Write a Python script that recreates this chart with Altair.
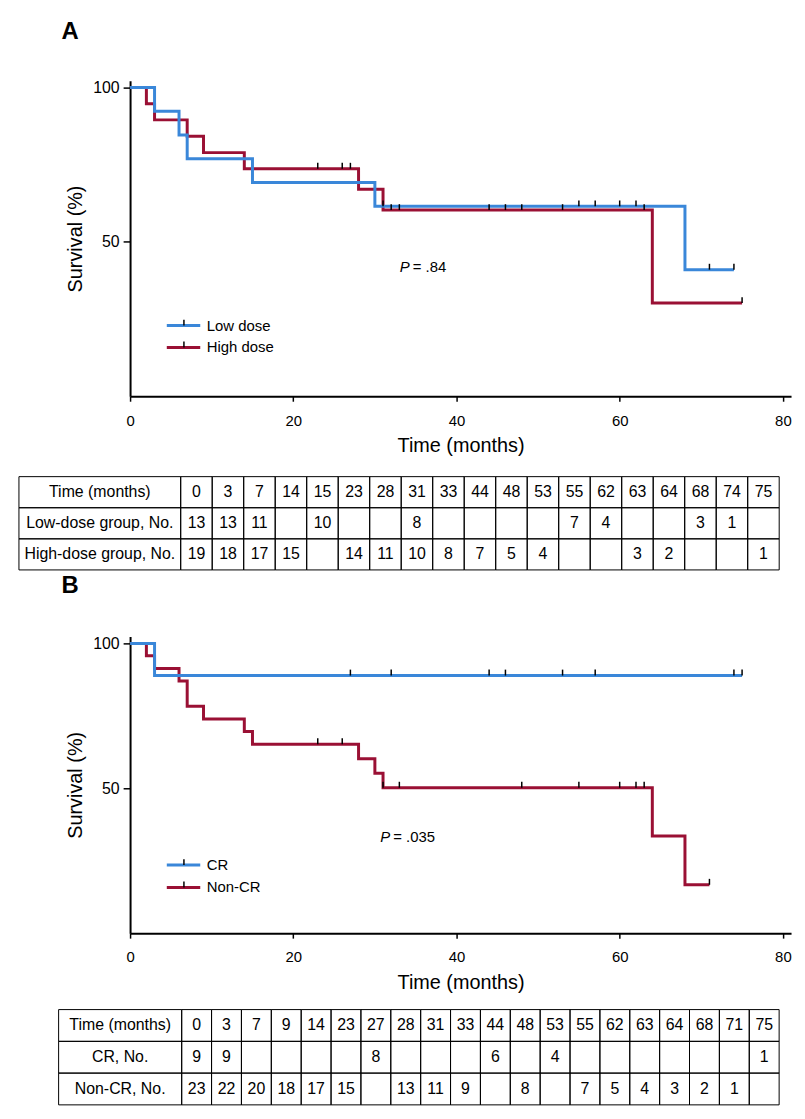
import altair as alt
import pandas as pd

FONT = "Liberation Sans, Arial, Helvetica, sans-serif"
BLUE = "#3A87D9"
RED = "#9A1034"

# ---------------- Panel A: Kaplan-Meier steps (months, survival %) ----------------
a_low_time = [0, 3, 6, 7, 15, 30, 68, 74]
a_low_surv = [100, 92.3, 84.6, 76.9, 69.2, 61.5, 41.0, 41.0]
a_high_time = [0, 2, 3, 7, 9, 14, 28, 31, 64, 75]
a_high_surv = [100, 94.7, 89.5, 84.2, 78.9, 73.7, 67.0, 60.3, 30.2, 30.2]
a_low_cens_time = [31, 55, 57, 60, 62, 71, 74]
a_low_cens_surv = [61.5, 61.5, 61.5, 61.5, 61.5, 41.0, 41.0]
a_high_cens_time = [23, 26, 27, 32, 33, 44, 46, 48, 53, 63, 75]
a_high_cens_surv = [73.7, 73.7, 73.7, 60.3, 60.3, 60.3, 60.3, 60.3, 60.3, 60.3, 30.2]
a_legend = ["Low dose", "High dose"]
a_pvalue = "= .84"

# ---------------- Panel B ----------------
b_cr_time = [0, 3, 75]
b_cr_surv = [100, 88.9, 88.9]
b_ncr_time = [0, 2, 3, 6, 7, 9, 14, 15, 28, 30, 31, 64, 68, 71]
b_ncr_surv = [100, 95.7, 91.3, 87.0, 78.3, 73.9, 69.6, 65.2, 60.2, 55.2, 50.2, 33.5, 16.7, 16.7]
b_cr_cens_time = [27, 32, 44, 46, 53, 57, 74, 75]
b_cr_cens_surv = [88.9, 88.9, 88.9, 88.9, 88.9, 88.9, 88.9, 88.9]
b_ncr_cens_time = [23, 26, 31, 33, 48, 55, 60, 62, 63, 71]
b_ncr_cens_surv = [65.2, 65.2, 50.2, 50.2, 50.2, 50.2, 50.2, 50.2, 50.2, 16.7]
b_legend = ["CR", "Non-CR"]
b_pvalue = "= .035"

# ---------------- Tables (numbers at risk) ----------------
ta_times = ["0", "3", "7", "14", "15", "23", "28", "31", "33", "44", "48", "53", "55", "62", "63", "64", "68", "74", "75"]
ta_labels = ["Time (months)", "Low-dose group, No.", "High-dose group, No."]
ta_low = ["13", "13", "11", "", "10", "", "", "8", "", "", "", "", "7", "4", "", "", "3", "1", ""]
ta_high = ["19", "18", "17", "15", "", "14", "11", "10", "8", "7", "5", "4", "", "", "3", "2", "", "", "1"]

tb_times = ["0", "3", "7", "9", "14", "23", "27", "28", "31", "33", "44", "48", "53", "55", "62", "63", "64", "68", "71", "75"]
tb_labels = ["Time (months)", "CR, No.", "Non-CR, No."]
tb_cr = ["9", "9", "", "", "", "", "8", "", "", "", "6", "", "4", "", "", "", "", "", "", "1"]
tb_ncr = ["23", "22", "20", "18", "17", "15", "", "13", "11", "9", "", "8", "", "7", "5", "4", "3", "2", "1", ""]

W = 666


def km_panel(letter, lines, cens, legend_labels, legend_colors, legend_y,
             p_text, p_x, p_y, height, ytop, tick_len, title_offset):
    xsc = alt.Scale(domain=[0, 81], nice=False, zero=False)
    ysc = alt.Scale(domain=[0, ytop], nice=False, zero=False)
    xax = alt.Axis(values=[0, 20, 40, 60, 80], title="Time (months)", tickSize=5,
                   labelPadding=12, labelFontSize=15, titleFontSize=20, titlePadding=8,
                   domainWidth=2, tickWidth=1.5, labelFlush=False)
    yax = alt.Axis(values=[50, 100], title="Survival (%)", tickSize=7, labelPadding=4,
                   labelFontSize=16, titleFontSize=20, titlePadding=7,
                   domainWidth=2, tickWidth=1.5)

    def X(f):
        return alt.X(f, type="quantitative", scale=xsc, axis=xax)

    def Y(f):
        return alt.Y(f, type="quantitative", scale=ysc, axis=yax)

    layers = []
    for t, s, col in lines:
        df = pd.DataFrame({"t": t, "s": s})
        layers.append(
            alt.Chart(df).mark_line(interpolate="step-after", color=col, strokeWidth=3,
                                    strokeCap="butt", strokeJoin="miter")
            .encode(x=X("t"), y=Y("s"))
        )
    ct, cs = [], []
    for t, s in cens:
        ct += t
        cs += s
    cdf = pd.DataFrame({"t": ct, "s": cs})
    cdf["s2"] = cdf["s"] + tick_len
    layers.append(
        alt.Chart(cdf).mark_rule(color="black", strokeWidth=1.5)
        .encode(x=X("t"), y=Y("s"), y2="s2")
    )
    # legend drawn inside the plot
    ldf = pd.DataFrame({"label": legend_labels, "color": legend_colors, "y": legend_y})
    ldf["x1"] = 4.5
    ldf["x2"] = 8.6
    ldf["xt"] = 6.6
    ldf["xl"] = 9.4
    ldf["y2"] = ldf["y"] + tick_len
    layers.append(
        alt.Chart(ldf).mark_rule(strokeWidth=3)
        .encode(x=X("x1"), x2="x2", y=Y("y"), color=alt.Color("color:N", scale=None))
    )
    layers.append(
        alt.Chart(ldf).mark_rule(color="black", strokeWidth=1.5)
        .encode(x=X("xt"), y=Y("y"), y2="y2")
    )
    layers.append(
        alt.Chart(ldf).mark_text(align="left", baseline="middle", fontSize=15, color="black")
        .encode(x=X("xl"), y=Y("y"), text="label:N")
    )
    # P value annotation
    pdf = pd.DataFrame({"x": [p_x], "y": [p_y], "p": ["P"], "v": [p_text]})
    layers.append(
        alt.Chart(pdf).mark_text(align="right", baseline="middle", fontSize=15,
                                 fontStyle="italic", color="black", dx=-1)
        .encode(x=X("x"), y=Y("y"), text="p:N")
    )
    layers.append(
        alt.Chart(pdf).mark_text(align="left", baseline="middle", fontSize=15,
                                 color="black", dx=2)
        .encode(x=X("x"), y=Y("y"), text="v:N")
    )
    return alt.layer(*layers).properties(
        width=W, height=height,
        title=alt.TitleParams(letter, anchor="start", frame="group", dx=-69,
                              fontSize=24, fontWeight="bold", offset=title_offset,
                              color="black"),
    )


def table_chart(times, labels, rows, x_domain, label_left, height, y_domain):
    recs = []
    all_rows = [times] + rows
    for r, (lab, vals) in enumerate(zip(labels, all_rows)):
        recs.append(dict(x=label_left, x2=0, y=r, y2=r + 1, text=lab))
        for c, v in enumerate(vals):
            recs.append(dict(x=c, x2=c + 1, y=r, y2=r + 1, text=v))
    df = pd.DataFrame(recs)
    xsc = alt.Scale(domain=x_domain, nice=False, zero=False)
    ysc = alt.Scale(domain=y_domain, nice=False, zero=False, reverse=True)
    base = alt.Chart(df)
    grid = base.mark_rect(filled=False, color="black", strokeWidth=1).encode(
        x=alt.X("x:Q", scale=xsc, axis=None), x2="x2",
        y=alt.Y("y:Q", scale=ysc, axis=None), y2="y2",
    )
    txt = base.transform_calculate(
        xc="(datum.x + datum.x2) / 2", yc="(datum.y + datum.y2) / 2"
    ).mark_text(fontSize=16, align="center", baseline="middle", color="black").encode(
        x=alt.X("xc:Q", scale=xsc, axis=None),
        y=alt.Y("yc:Q", scale=ysc, axis=None),
        text="text:N",
    )
    return alt.layer(grid, txt).properties(width=W, height=height)


panel_a = km_panel(
    "A",
    [(a_high_time, a_high_surv, RED), (a_low_time, a_low_surv, BLUE)],
    [(a_high_cens_time, a_high_cens_surv), (a_low_cens_time, a_low_cens_surv)],
    a_legend, [BLUE, RED], [22.9, 15.8],
    a_pvalue, 34.4, 41.8, 318, 102.2, 1.9, 36,
)
table_a = table_chart(ta_times, ta_labels, [ta_low, ta_high],
                      [-1.607, 19.376], -5.135, 242, [-2.585, 5.139])

panel_b = km_panel(
    "B",
    [(b_ncr_time, b_ncr_surv, RED), (b_cr_time, b_cr_surv, BLUE)],
    [(b_ncr_cens_time, b_ncr_cens_surv), (b_cr_cens_time, b_cr_cens_surv)],
    b_legend, [BLUE, RED], [23.5, 15.8],
    b_pvalue, 32.0, 33.2, 299, 102.4, 2.05, 38,
)
table_b = table_chart(tb_times, tb_labels, [tb_cr, tb_ncr],
                      [-1.728, 20.399], -4.12, 176, [-2.406, 3.094])

chart = alt.vconcat(
    panel_a, table_a, panel_b, table_b, spacing=0, bounds="flush"
).properties(
    padding={"left": 10, "top": 7, "right": 5, "bottom": 5}
).configure(
    font=FONT
).configure_view(
    stroke=None
).configure_axis(
    labelFont=FONT, titleFont=FONT, domainColor="black", tickColor="black",
    labelColor="black", titleColor="black", grid=False, titleFontWeight="normal",
).configure_title(font=FONT)

chart.save("out.html", embed_options={"renderer": "svg", "actions": False})
